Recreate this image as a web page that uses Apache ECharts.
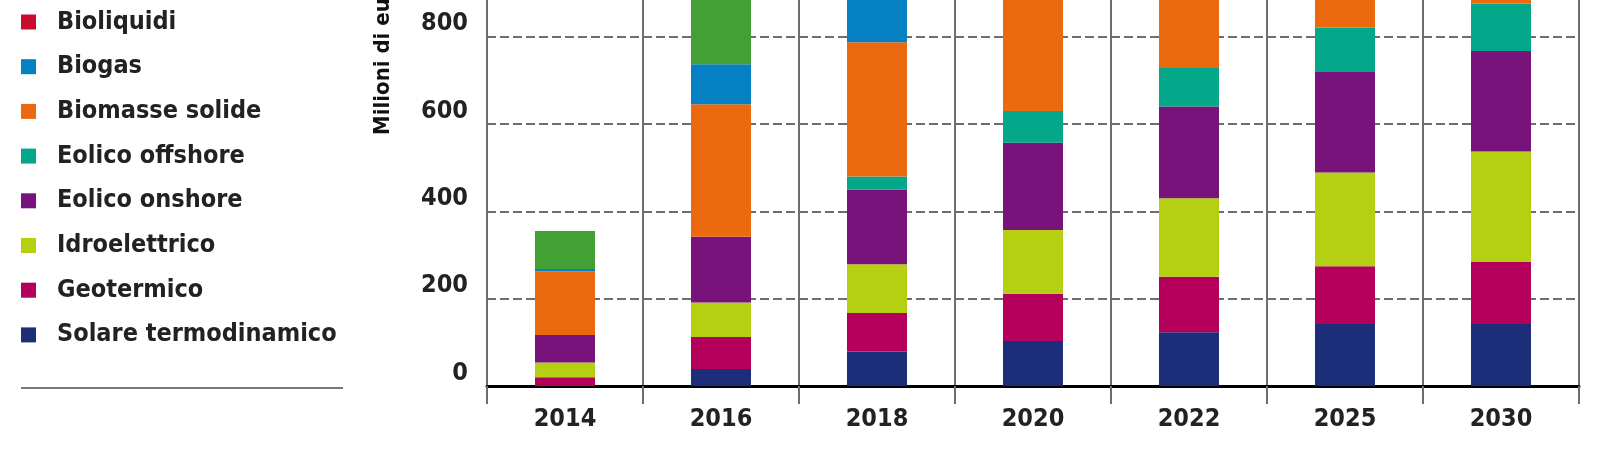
<!DOCTYPE html>
<html>
<head>
<meta charset="utf-8">
<script src="https://cdn.jsdelivr.net/npm/echarts@6/dist/echarts.min.js"></script>
<style>
  html, body { margin: 0; padding: 0; background: #fff; }
  #chart { width: 1603px; height: 464px; }
</style>
</head>
<body>
<div id="chart"></div>
<script>
// anni
var years = ['2014', '2016', '2018', '2020', '2022', '2025', '2030'];

// milioni di euro per fonte (la parte oltre ~880 è tagliata nell'originale)
var solareTermodinamico = [0, 39, 79, 103, 123, 142, 142];
var geotermico = [20, 73, 88, 108, 127, 132, 142];
var idroelettrico = [34, 79, 112, 146, 180, 215, 253];
var eolicoOnshore = [63, 151, 171, 200, 210, 230, 230];
var eolicoOffshore = [0, 0, 30, 73, 88, 102, 109];
var biomasseSolide = [146, 303, 307, 300, 300, 300, 300];
var biogas = [5, 92, 110, 60, 60, 60, 60];
var bioliquidi = [0, 0, 20, 20, 20, 20, 20];
var altreFonti = [87, 200, 150, 100, 100, 100, 100];

var yTicks = [0, 200, 400, 600, 800];

var fontFamily = '"DejaVu Sans Condensed", "DejaVu Sans", sans-serif';

var seriesList = [
  { name: 'Solare termodinamico', data: solareTermodinamico, color: '#1c2e7a' },
  { name: 'Geotermico', data: geotermico, color: '#b4005a' },
  { name: 'Idroelettrico', data: idroelettrico, color: '#b5d013' },
  { name: 'Eolico onshore', data: eolicoOnshore, color: '#78137b' },
  { name: 'Eolico offshore', data: eolicoOffshore, color: '#05a78a' },
  { name: 'Biomasse solide', data: biomasseSolide, color: '#eb6a10' },
  { name: 'Biogas', data: biogas, color: '#0580c2' },
  { name: 'Bioliquidi', data: bioliquidi, color: '#c70d2c' },
  { name: 'Altre fonti', data: altreFonti, color: '#42a034' }
];

var series = [];
for (var i = 0; i < seriesList.length; i++) {
  series.push({
    name: seriesList[i].name,
    type: 'bar',
    stack: 'Totale',
    barWidth: 60,
    clip: true,
    itemStyle: { color: seriesList[i].color },
    data: seriesList[i].data
  });
}

var labelStyle = {
  fontFamily: fontFamily,
  fontSize: 25,
  fontWeight: 'bold',
  lineHeight: 26,
  color: '#222'
};

var chart = echarts.init(document.getElementById('chart'), null, { renderer: 'canvas' });
chart.setOption({
  animation: false,
  textStyle: { fontFamily: fontFamily },
  legend: {
    orient: 'vertical',
    left: 21,
    top: 9,
    padding: 0,
    itemGap: 18.7,
    itemWidth: 15,
    itemHeight: 15,
    icon: 'rect',
    selectedMode: false,
    data: ['Bioliquidi', 'Biogas', 'Biomasse solide', 'Eolico offshore',
      'Eolico onshore', 'Idroelettrico', 'Geotermico', 'Solare termodinamico'],
    textStyle: Object.assign({}, labelStyle, { padding: [0, 0, 0, 16] })
  },
  grid: {
    left: 487,
    right: 24,
    top: 0,
    bottom: 78
  },
  xAxis: {
    type: 'category',
    data: years,
    axisLine: { lineStyle: { color: '#000', width: 3 } },
    axisTick: { show: true, length: 18, lineStyle: { color: '#6e6e6e', width: 2 } },
    splitLine: { show: true, lineStyle: { color: '#6e6e6e', width: 2 } },
    axisLabel: Object.assign({ margin: 20 }, labelStyle)
  },
  yAxis: {
    type: 'value',
    min: yTicks[0],
    max: 884,
    interval: 200,
    axisLine: { show: false },
    axisTick: { show: false },
    axisLabel: Object.assign({ showMaxLabel: false, margin: 19, verticalAlign: 'bottom' }, labelStyle),
    splitLine: {
      show: true,
      showMaxLine: false,
      lineStyle: { color: '#6e6e6e', width: 2, type: [9, 4] }
    }
  },
  graphic: [
    {
      type: 'text',
      x: 383,
      y: 135,
      rotation: Math.PI / 2,
      style: {
        text: 'Milioni di euro',
        fontFamily: fontFamily,
        fontSize: 22,
        fontWeight: 'bold',
        fill: '#111',
        textAlign: 'left',
        textVerticalAlign: 'middle'
      }
    },
    {
      type: 'line',
      shape: { x1: 21, y1: 388, x2: 343, y2: 388 },
      style: { stroke: '#777', lineWidth: 2 }
    }
  ],
  series: series
});
</script>
</body>
</html>
